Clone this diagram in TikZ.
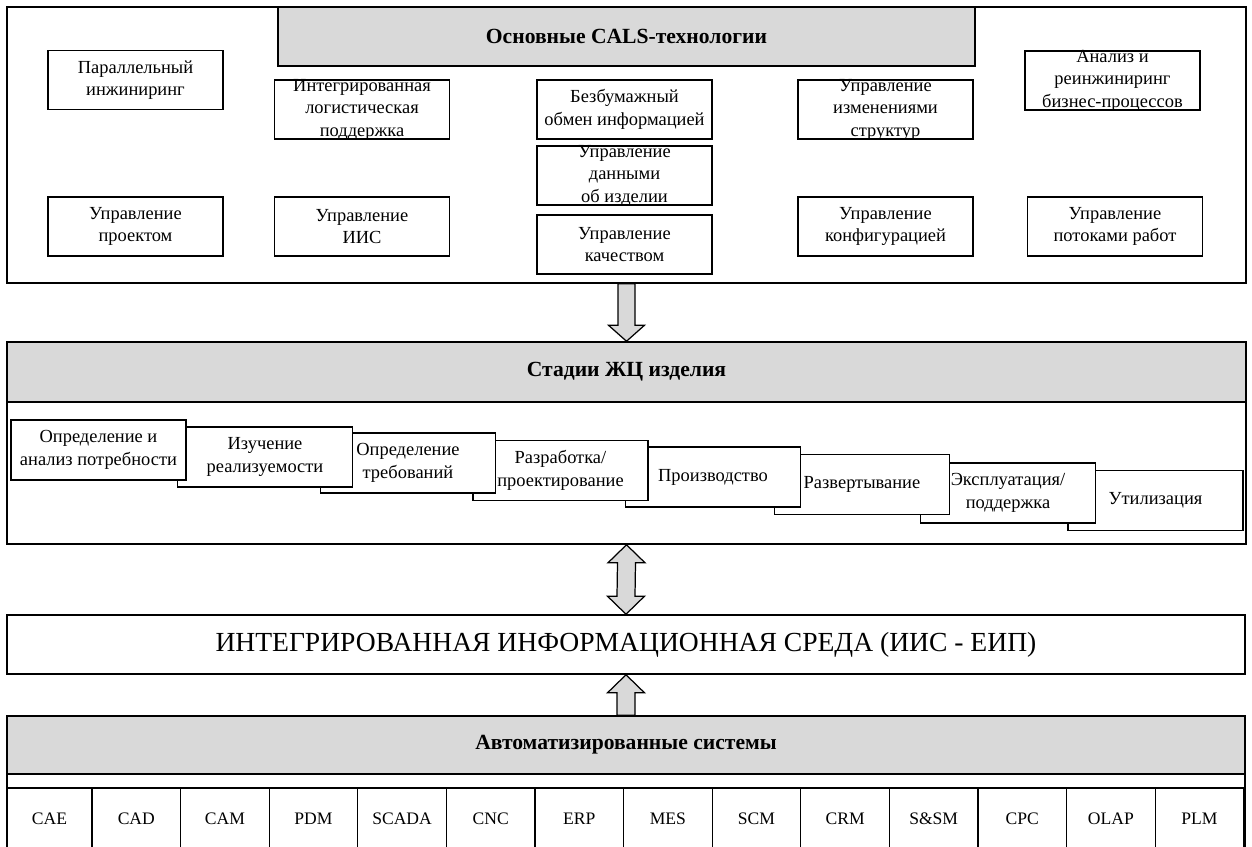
\documentclass[tikz,border=0pt]{standalone}
\usepackage{fontspec}
\setmainfont{Liberation Serif}
\usetikzlibrary{calc,positioning}
\definecolor{headgray}{HTML}{D9D9D9}

\begin{document}
\begin{tikzpicture}[x=0.02cm,y=-0.02cm]
\tikzset{
  frame/.style={draw,line width=0.9pt,inner sep=0pt},
  techbox/.style={draw,line width=0.7pt,fill=white,minimum width=3.5cm,minimum height=1.18cm,inner xsep=1pt,inner ysep=-4pt,align=center,font=\fontsize{10.5}{12.8}\selectfont},
  stagebox/.style={techbox,minimum height=1.2cm},
  headbar/.style={draw,line width=0.9pt,fill=headgray,inner sep=0pt,font=\bfseries\fontsize{12.3}{14}\selectfont},
  syscell/.style={draw,line width=0.7pt,minimum height=1.24cm,inner sep=0pt,font=\fontsize{10}{12}\selectfont},
  blockarrow/.style={draw,line width=0.7pt,fill=headgray,line join=miter}
}
\useasboundingbox (0,0) rectangle (1252,846);

% CALS technologies
\node[frame,minimum width=24.78cm,minimum height=5.52cm] (cals) at (626.5,145) {};
\node[headbar,minimum width=13.94cm,minimum height=1.18cm] (calshead) at (626.5,36.5) {Основные CALS-технологии};
\node[techbox] (par) at (135.5,80) {Параллельный\\инжиниринг};
\node[techbox] (ilp) at (362,109.5) {Интегрированная\\логистическая\\поддержка};
\node[techbox] (paper) at (624.5,109.5) {Безбумажный\\обмен информацией};
\node[techbox] (pdm) at (624.5,175.5) {Управление\\данными\\об изделии};
\node[techbox] (qual) at (624.5,244.5) {Управление\\качеством};
\node[techbox] (chg) at (885.5,109.5) {Управление\\изменениями\\структур};
\node[techbox] (bpr) at (1112.5,80.5) {Анализ и\\реинжиниринг\\бизнес-процессов};
\node[techbox] (proj) at (135.5,226.5) {Управление\\проектом};
\node[techbox] (iismg) at (362,226.5) {Управление\\ИИС};
\node[techbox] (conf) at (885.5,226.5) {Управление\\конфигурацией};
\node[techbox] (flow) at (1115,226.5) {Управление\\потоками работ};

% life cycle stages
\node[frame,minimum width=24.78cm,minimum height=4.04cm] (stages) at (626.5,443) {};
\node[headbar,minimum width=24.78cm,minimum height=1.2cm] (stghead) at (626.5,372) {Стадии ЖЦ изделия};
\node[stagebox] (st8) at (1155.5,500.5) {Утилизация};
\node[stagebox] (st7) at (1008,493) {Эксплуатация/\\поддержка};
\node[stagebox] (st6) at (862,484.5) {Развертывание};
\node[stagebox] (st5) at (713,477) {Производство};
\node[stagebox] (st4) at (560.5,470.5) {Разработка/\\проектирование};
\node[stagebox] (st3) at (408,463) {Определение\\требований};
\node[stagebox] (st2) at (265,457) {Изучение\\реализуемости};
\node[stagebox] (st1) at (98.5,450) {Определение и\\анализ потребности};

% integrated environment
\node[frame,minimum width=24.76cm,minimum height=1.18cm,font=\fontsize{15.7}{18}\selectfont] (iis) at (626,644.5) {ИНТЕГРИРОВАННАЯ ИНФОРМАЦИОННАЯ СРЕДА (ИИС - ЕИП)};

% automated systems
\node[frame,minimum width=24.76cm,minimum height=2.68cm] (sys) at (626,783) {};
\node[headbar,minimum width=24.76cm,minimum height=1.16cm] (syshead) at (626,745) {Автоматизированные системы};
\node[syscell,minimum width=1.7cm] (c0) at (49.5,819) {CAE};
\foreach \s [count=\i] in {CAD,CAM,PDM,SCADA,CNC,ERP,MES,SCM,CRM,S\&SM,CPC,OLAP,PLM}
  \node[syscell,minimum width=1.772cm] (c\i) at ({136.3+88.6*(\i-1)},819) {\s};

% block arrows
\draw[blockarrow] ($(cals.south)+(-8.5,0)$) -- ($(stages.north)+(-8.5,-16)$) -- ($(stages.north)+(-18,-16)$) -- (stages.north) -- ($(stages.north)+(18,-16)$) -- ($(stages.north)+(8.5,-16)$) -- ($(cals.south)+(8.5,0)$) -- cycle;
\draw[blockarrow] (stages.south) -- ($(stages.south)+(18.5,18)$) -- ($(stages.south)+(9,18)$) -- ($(iis.north)+(9,-18)$) -- ($(iis.north)+(18.5,-18)$) -- (iis.north) -- ($(iis.north)+(-18.5,-18)$) -- ($(iis.north)+(-9,-18)$) -- ($(stages.south)+(-9,18)$) -- ($(stages.south)+(-18.5,18)$) -- cycle;
\draw[blockarrow] ($(sys.north)+(-9,0)$) -- ($(iis.south)+(-9,18)$) -- ($(iis.south)+(-18.5,18)$) -- (iis.south) -- ($(iis.south)+(18.5,18)$) -- ($(iis.south)+(9,18)$) -- ($(sys.north)+(9,0)$) -- cycle;
\end{tikzpicture}
\end{document}
